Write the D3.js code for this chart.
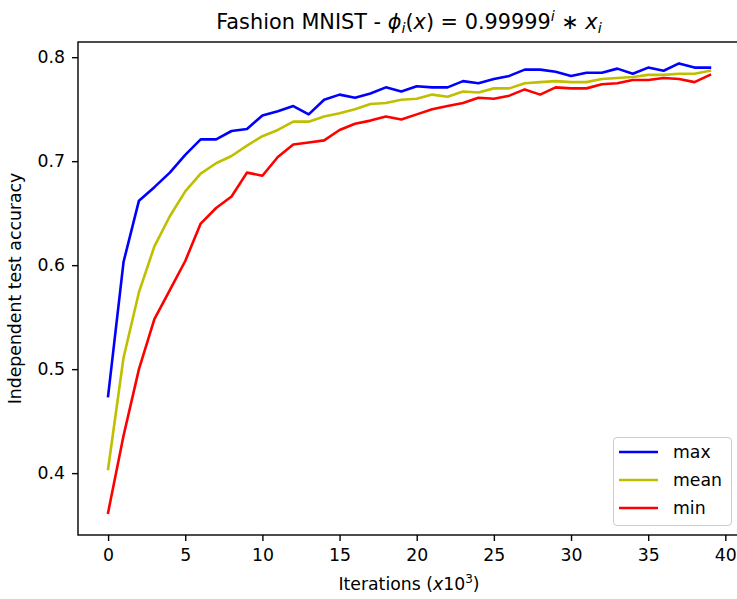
<!DOCTYPE html>
<html><head><meta charset="utf-8">
<script src="https://cdn.jsdelivr.net/npm/d3@7"></script>
<style>body{margin:0;background:#fff}svg{display:block}text{font-family:"DejaVu Sans",sans-serif;fill:#000}</style>
</head><body><svg id="c" width="737" height="599"></svg>
<script>
const iterations = d3.range(0, 40);
const maxAcc = [0.474,0.603,0.662,0.675,0.689,0.706,0.721,0.721,0.729,0.731,0.744,0.748,0.753,0.745,0.759,0.764,0.761,0.765,0.771,0.767,0.772,0.771,0.771,0.777,0.775,0.779,0.782,0.788,0.788,0.786,0.782,0.785,0.785,0.789,0.784,0.790,0.787,0.794,0.790,0.790];
const meanAcc = [0.404,0.511,0.574,0.618,0.647,0.671,0.688,0.698,0.705,0.715,0.724,0.730,0.738,0.738,0.743,0.746,0.750,0.755,0.756,0.759,0.760,0.764,0.762,0.767,0.766,0.770,0.770,0.775,0.776,0.777,0.776,0.776,0.779,0.780,0.781,0.783,0.783,0.784,0.784,0.787];
const minAcc = [0.362,0.436,0.500,0.548,0.576,0.604,0.640,0.655,0.666,0.689,0.686,0.704,0.716,0.718,0.720,0.730,0.736,0.739,0.743,0.740,0.745,0.750,0.753,0.756,0.761,0.760,0.763,0.769,0.764,0.771,0.770,0.770,0.774,0.775,0.778,0.778,0.780,0.779,0.776,0.783];
const xTicks = [0,5,10,15,20,25,30,35,40];
const yTicks = [0.4,0.5,0.6,0.7,0.8];
const seriesNames = ["max","mean","min"];
const seriesColors = ["#0000ff","#bfbf00","#ff0000"];
const seriesData = [maxAcc, meanAcc, minAcc];

const FS = 17.3;
const svg = d3.select("#c");
const L = 78, R = 740, T = 42, B = 535;
const x = d3.scaleLinear().domain([-1.95, 40.95]).range([L, R]);
const y = d3.scaleLinear().domain([0.3405, 0.8146]).range([B, T]);

svg.append("defs").append("clipPath").attr("id","pc").append("rect")
  .attr("x", L).attr("y", T).attr("width", R-L).attr("height", B-T);

const line = d3.line().x((d,i)=>x(iterations[i])).y(d=>y(d));
const g = svg.append("g").attr("clip-path","url(#pc)");
seriesData.forEach((s,k)=>{
  g.append("path").attr("d", line(s)).attr("fill","none")
   .attr("stroke", seriesColors[k]).attr("stroke-width",2.6)
   .attr("stroke-linejoin","round").attr("stroke-linecap","square");
});

const xa = svg.append("g").attr("transform",`translate(0,${B})`)
  .call(d3.axisBottom(x).tickValues(xTicks).tickFormat(d3.format("d")).tickSize(6).tickPadding(8));
const ya = svg.append("g").attr("transform",`translate(${L},0)`)
  .call(d3.axisLeft(y).tickValues(yTicks).tickFormat(d3.format(".1f")).tickSize(6).tickPadding(7));
[xa,ya].forEach(a=>{
  a.attr("font-size", FS).attr("font-family","DejaVu Sans");
  a.select(".domain").remove();
  a.selectAll("line").attr("stroke","#000").attr("stroke-width",1.4);
  a.selectAll("text").attr("font-size", FS+"px").attr("fill","#000");
});

svg.append("rect").attr("x",L).attr("y",T).attr("width",R-L).attr("height",B-T)
  .attr("fill","none").attr("stroke","#000").attr("stroke-width",1.4);

// title
const TS = 20.8, SS = 14.5;
const title = svg.append("text").attr("x",(L+R)/2).attr("y",29).attr("text-anchor","middle").attr("font-size",TS+"px");
title.append("tspan").text("Fashion MNIST - ");
title.append("tspan").attr("font-style","italic").text("ϕ");
title.append("tspan").attr("font-style","italic").attr("font-size",SS+"px").attr("dy",4).text("i");
title.append("tspan").attr("dy",-4).text("(");
title.append("tspan").attr("font-style","italic").text("x");
title.append("tspan").text(") = 0.99999");
title.append("tspan").attr("font-style","italic").attr("font-size",SS+"px").attr("dy",-8).text("i");
title.append("tspan").attr("dy",8).text(" ∗ ");
title.append("tspan").attr("font-style","italic").text("x");
title.append("tspan").attr("font-style","italic").attr("font-size",SS+"px").attr("dy",4).text("i");

// axis labels
const xl = svg.append("text").attr("x",(L+R)/2).attr("y",590).attr("text-anchor","middle").attr("font-size",FS+"px");
xl.append("tspan").text("Iterations (");
xl.append("tspan").attr("font-style","italic").text("x");
xl.append("tspan").text("10");
xl.append("tspan").attr("font-size","12px").attr("dy",-7).text("3");
xl.append("tspan").attr("dy",7).text(")");

svg.append("text").attr("transform",`translate(21,${(T+B)/2}) rotate(-90)`)
  .attr("text-anchor","middle").attr("font-size",FS+"px").text("Independent test accuracy");

// legend
const lg = svg.append("g");
lg.append("rect").attr("x",613.5).attr("y",437.5).attr("width",118).attr("height",88).attr("rx",3.5)
  .attr("fill","#fff").attr("fill-opacity",0.8).attr("stroke","#cccccc").attr("stroke-width",1);
seriesNames.forEach((n,k)=>{
  const yy = 452 + k*28;
  lg.append("line").attr("x1",619).attr("x2",658).attr("y1",yy).attr("y2",yy)
    .attr("stroke",seriesColors[k]).attr("stroke-width",2.6);
  lg.append("text").attr("x",673).attr("y",yy+6).attr("font-size",FS+"px").text(n);
});
</script></body></html>
